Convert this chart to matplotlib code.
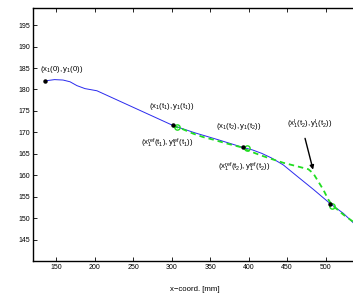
import matplotlib
matplotlib.use("Agg")
import matplotlib.pyplot as plt

plt.rcParams['font.family'] = ['Liberation Sans', 'DejaVu Sans']
plt.rcParams['mathtext.fontset'] = 'custom'
plt.rcParams['mathtext.rm'] = 'Liberation Sans'
plt.rcParams['mathtext.it'] = 'Liberation Sans'
plt.rcParams['mathtext.default'] = 'rm'

# Actual trajectory (blue)
path_x = [135.6, 148, 159, 168, 177, 187.5, 203, 301.8, 330, 360, 392.3, 405, 417, 430, 445, 462, 484, 505.7, 523, 540]
path_y = [182.0, 182.3, 182.2, 181.8, 180.9, 180.2, 179.7, 171.6, 169.9, 168.3, 166.5, 165.9, 165.1, 164.0, 162.4, 159.9, 156.7, 153.4, 151.1, 148.2]

# Reference trajectory (green dashed)
ref_x = [301.8, 311, 328, 341, 354, 371.5, 388.8, 397.5, 414.8, 427.8, 445, 462.5, 477.5, 484, 490.5, 497, 503.5, 508, 523, 540]
ref_y = [171.4, 171.0, 169.7, 168.9, 168.3, 167.4, 166.6, 165.9, 164.7, 163.9, 162.9, 162.1, 161.4, 160.4, 158.5, 156.6, 154.3, 153.1, 150.8, 148.6]

# Sampled actual positions (black dots)
pos_x = [135.6, 301.8, 392.3, 505.7]
pos_y = [182.0, 171.6, 166.5, 153.3]

# Reference positions (green circles)
refpt_x = [307, 398, 508]
refpt_y = [171.2, 166.3, 152.9]

x_ticks = [150, 200, 250, 300, 350, 400, 450, 500]
y_ticks = [145, 150, 155, 160, 165, 170, 175, 180, 185, 190, 195]

fig = plt.figure(figsize=(3.53, 2.97), dpi=100)
ax = fig.add_axes([33/353, 36/297, 323.5/353, 253/297])

ax.plot(path_x, path_y, color='#2a2aee', lw=0.7, zorder=2)
ax.plot(ref_x, ref_y, color='#22dd22', lw=1.3, linestyle=(0, (3, 2.2)), zorder=3)
ax.plot(refpt_x, refpt_y, 'o', mfc='none', mec='#22dd22', ms=3.8, mew=1.0, zorder=4)
ax.plot(pos_x, pos_y, 'o', color='black', ms=2.2, zorder=5)

fs = 5.6
ax.text(157.7, 184.6, r'$(x_1(0),y_1(0))$', ha='center', va='center', fontsize=fs)
ax.text(300.5, 176.0, r'$(x_1(t_1),y_1(t_1))$', ha='center', va='center', fontsize=fs)
ax.text(294.7, 167.4, r'$(x_1^{ref}(t_1),y_1^{ref}(t_1))$', ha='center', va='center', fontsize=fs)
ax.text(386.9, 171.3, r'$(x_1(t_2),y_1(t_2))$', ha='center', va='center', fontsize=fs)
ax.text(394.0, 161.9, r'$(x_1^{ref}(t_2),y_1^{ref}(t_2))$', ha='center', va='center', fontsize=fs)
ax.text(479.7, 171.8, r'$(x_1^{l}(t_2),y_1^{l}(t_2))$', ha='center', va='center', fontsize=fs)

ax.annotate('', xy=(483.6, 161.3), xytext=(473.2, 168.6),
            arrowprops=dict(arrowstyle='-|>', color='black', lw=1.0,
                            mutation_scale=6, shrinkA=0, shrinkB=0))

ax.set_xlim(120, 540)
ax.set_ylim(140, 199)
ax.set_xticks(x_ticks)
ax.set_yticks(y_ticks)
ax.tick_params(direction='in', length=3, width=0.6, labelsize=5.0, pad=2,
               top=True, right=True)
for s in ax.spines.values():
    s.set_linewidth(1.0)
ax.set_xlabel('x\u2212coord. [mm]', fontsize=5.6, labelpad=11)

fig.savefig('out.png', dpi=100)
